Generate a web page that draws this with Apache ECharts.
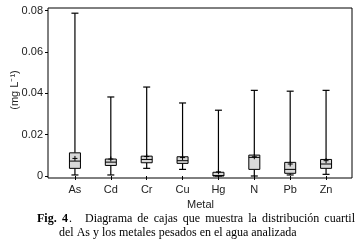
<!DOCTYPE html>
<html>
<head>
<meta charset="utf-8">
<script src="https://cdn.jsdelivr.net/npm/echarts@6/dist/echarts.min.js"></script>
<style>
html,body{margin:0;padding:0;background:#fff;}
#c{width:356px;height:251px;}
</style>
</head>
<body>
<div id="c"></div>
<script>
const categories = ['As','Cd','Cr','Cu','Hg','N','Pb','Zn'];
const minVals    = [0.0005,0.0005,0.0037,0.0032,0.0000,0.0000,0.0005,0.0008];
const q1Vals     = [0.0037,0.0051,0.0064,0.0061,0.0000,0.0032,0.0013,0.0037];
const medianVals = [0.0072,0.0067,0.0080,0.0074,0.0002,0.0090,0.0032,0.0058];
const q3Vals     = [0.0112,0.0082,0.0096,0.0093,0.0018,0.0101,0.0066,0.0080];
const maxVals    = [0.0787,0.0382,0.0430,0.0353,0.0318,0.0414,0.0410,0.0414];
const meanVals   = [0.0085,0.0082,0.0094,0.0089,0.0020,0.0093,0.0058,0.0074];
const yTicks = { min: 0, max: 0.08, interval: 0.02 };
const captionFig = 'Fig.';
const captionNum = '4';
const captionLine1 = 'Diagrama de cajas que muestra la distribución cuartil';
const captionLine2 = 'del As y los metales pesados en el agua analizada';

const data = categories.map((c, i) => [i, minVals[i], q1Vals[i], medianVals[i], q3Vals[i], maxVals[i], meanVals[i]]);

const chart = echarts.init(document.getElementById('c'), null, { renderer: 'canvas' });
const font = '"Liberation Sans", Arial, sans-serif';
const serif = '"Liberation Serif", "Times New Roman", serif';
const capSize = 12;

function renderItem(params, api) {
  const i = api.value(0);
  const x = api.coord([i, 0])[0];
  const yMin = api.coord([i, api.value(1)])[1];
  const yQ1 = api.coord([i, api.value(2)])[1];
  const yMed = api.coord([i, api.value(3)])[1];
  const yQ3 = api.coord([i, api.value(4)])[1];
  const yMax = api.coord([i, api.value(5)])[1];
  const yMean = api.coord([i, api.value(6)])[1];
  const bw = 11, cw = 7, m = 2.5;
  const ls = { stroke: '#000', lineWidth: 1.2 };
  return {
    type: 'group',
    children: [
      { type: 'line', shape: { x1: x, y1: yMax, x2: x, y2: yQ3 }, style: ls },
      { type: 'line', shape: { x1: x, y1: yQ1, x2: x, y2: yMin }, style: ls },
      { type: 'line', shape: { x1: x - cw / 2, y1: yMax, x2: x + cw / 2, y2: yMax }, style: ls },
      { type: 'line', shape: { x1: x - cw / 2, y1: yMin, x2: x + cw / 2, y2: yMin }, style: ls },
      { type: 'rect', shape: { x: x - bw / 2, y: yQ3, width: bw, height: Math.max(yQ1 - yQ3, 1) }, style: { fill: '#d9d9d9', stroke: '#000', lineWidth: 1 } },
      { type: 'line', shape: { x1: x - bw / 2, y1: yMed, x2: x + bw / 2, y2: yMed }, style: { stroke: '#000', lineWidth: 1 } },
      { type: 'line', shape: { x1: x - m, y1: yMean, x2: x + m, y2: yMean }, style: { stroke: '#000', lineWidth: 1 } },
      { type: 'line', shape: { x1: x, y1: yMean - m, x2: x, y2: yMean + m }, style: { stroke: '#000', lineWidth: 1 } }
    ]
  };
}

// justify caption line 1 between two x positions
const mctx = document.createElement('canvas').getContext('2d');
mctx.font = capSize + 'px ' + serif;
const words = captionLine1.split(' ');
const widths = words.map(w => mctx.measureText(w).width);
const startX = 85, endX = 355;
const gap = (endX - startX - widths.reduce((a, b) => a + b, 0)) / (words.length - 1);
const wordGraphics = [];
let cx = startX;
words.forEach((w, k) => {
  wordGraphics.push({ type: 'text', x: cx, y: 219,
    style: { text: w, fill: '#000', font: capSize + 'px ' + serif, textVerticalAlign: 'middle' } });
  cx += widths[k] + gap;
});
mctx.font = 'bold ' + capSize + 'px ' + serif;
const numW = mctx.measureText(captionNum).width;

chart.setOption({
  animation: false,
  backgroundColor: '#fff',
  grid: [
    { left: 57, width: 287, top: 10.5, height: 165.5, show: false },
    { left: 48, right: 4, top: 8, height: 170, show: true, borderColor: '#000', borderWidth: 1, backgroundColor: 'transparent' }
  ],
  xAxis: [
    {
      type: 'category', gridIndex: 0, data: categories, boundaryGap: true, offset: 2,
      axisLine: { show: false },
      axisTick: { show: true, alignWithLabel: true, length: 4, lineStyle: { color: '#000' } },
      axisLabel: { color: '#222', fontFamily: font, fontSize: 11, margin: 6 },
      name: 'Metal', nameLocation: 'middle', nameGap: 19,
      nameTextStyle: { color: '#222', fontFamily: font, fontSize: 11 }
    },
    { type: 'value', gridIndex: 1, show: false }
  ],
  yAxis: [
    {
      type: 'value', gridIndex: 0, min: yTicks.min, max: yTicks.max, interval: yTicks.interval, offset: 9,
      axisLine: { show: false },
      axisTick: { show: true, length: 3, lineStyle: { color: '#000' } },
      splitLine: { show: false },
      axisLabel: { color: '#222', fontFamily: font, fontSize: 11, margin: 5,
        formatter: v => v === 0 ? '0' : v.toFixed(2) }
    },
    { type: 'value', gridIndex: 1, show: false }
  ],
  graphic: [
    { type: 'text', x: 15, y: 90, rotation: Math.PI / 2,
      style: { text: '(mg L\u207B\u00B9)', fill: '#222', font: '11px ' + font, textAlign: 'center', textVerticalAlign: 'middle' } },
    { type: 'text', x: 37, y: 219,
      style: { text: captionFig, fill: '#000', font: 'bold ' + capSize + 'px ' + serif, textVerticalAlign: 'middle' } },
    { type: 'text', x: 62, y: 219,
      style: { text: captionNum, fill: '#000', font: 'bold ' + capSize + 'px ' + serif, textVerticalAlign: 'middle' } },
    { type: 'text', x: 62 + numW + 1, y: 219,
      style: { text: '.', fill: '#000', font: capSize + 'px ' + serif, textVerticalAlign: 'middle' } },
    ...wordGraphics,
    { type: 'text', x: 59, y: 233,
      style: { text: captionLine2, fill: '#000', font: capSize + 'px ' + serif, textVerticalAlign: 'middle' } }
  ],
  series: [{
    type: 'custom', xAxisIndex: 0, yAxisIndex: 0,
    renderItem: renderItem,
    data: data,
    clip: false
  }]
});
</script>
</body>
</html>
